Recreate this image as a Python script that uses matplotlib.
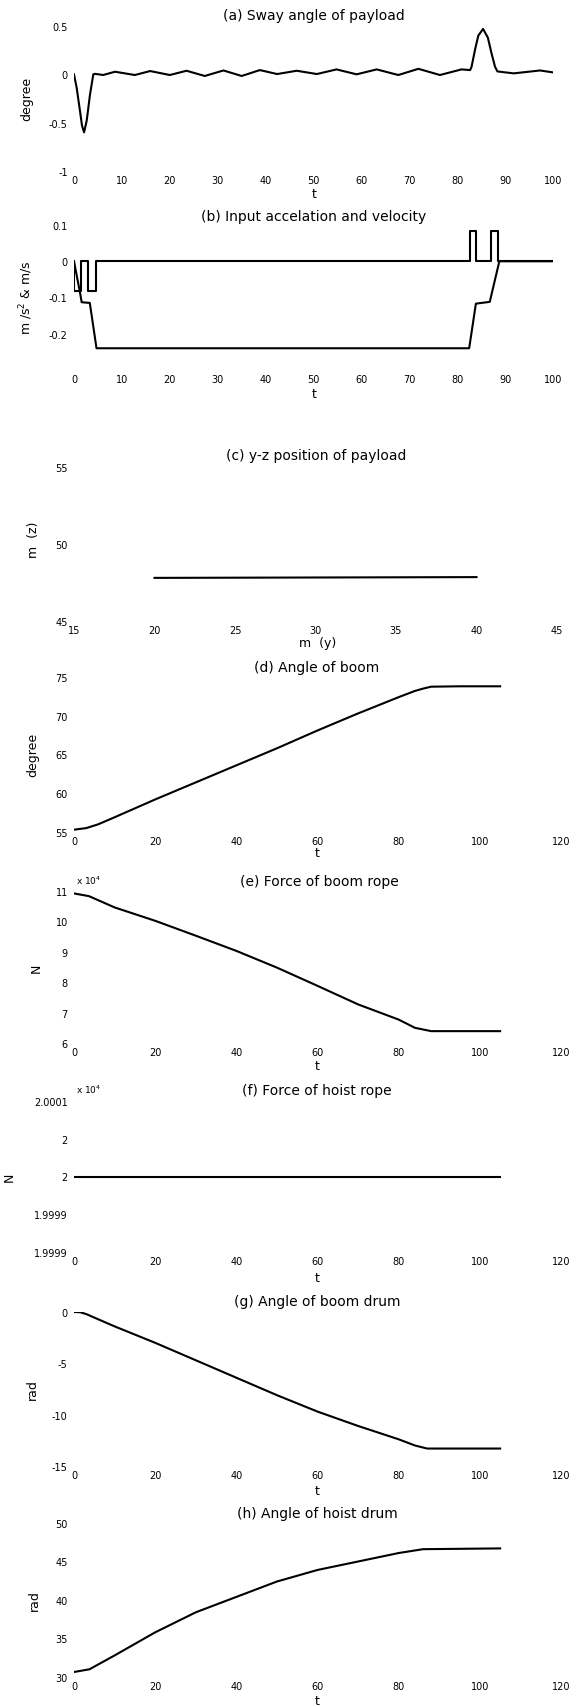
import matplotlib
matplotlib.use("Agg")
import matplotlib.pyplot as plt

plt.rcParams['font.family'] = ['DejaVu Sans']
plt.rcParams['axes.unicode_minus'] = False

# ---------------- data ----------------
# (a) sway angle of payload
sway_t = [0, 0.56, 1.25, 1.67, 2.1, 2.65, 3.34, 4.03, 4.4, 6.1, 8.56, 12.7, 15.9, 20.0, 23.5,
          27.3, 31.2, 35.0, 38.8, 42.4, 46.5, 50.7, 54.8, 59.0, 63.2, 67.7, 71.9, 76.4, 80.9,
          82.7, 83.0, 83.7, 84.4, 85.4, 86.4, 87.2, 87.9, 88.4, 91.8, 97.3, 100]
sway_v = [0, -0.14, -0.38, -0.53, -0.60, -0.48, -0.21, 0.0, 0.005, -0.007, 0.027, -0.007, 0.034,
          -0.007, 0.037, -0.017, 0.04, -0.017, 0.044, 0.003, 0.037, 0.003, 0.051, 0.0, 0.051,
          -0.007, 0.057, -0.007, 0.051, 0.044, 0.078, 0.25, 0.40, 0.47, 0.38, 0.21, 0.078, 0.03,
          0.01, 0.04, 0.02]

# (b) input acceleration and velocity
acc_t = [0, 0, 1.45, 1.45, 3.0, 3.0, 4.55, 4.55, 82.7, 82.7, 83.9, 83.9, 87.0, 87.0, 88.6, 88.6, 100]
acc_v = [0, -0.083, -0.083, 0, 0, -0.083, -0.083, 0, 0, 0.083, 0.083, 0, 0, 0.083, 0.083, 0, 0]
vel_t = [0, 1.3, 1.6, 3.3, 4.7, 82.5, 83.9, 86.8, 88.8, 100]
vel_v = [0, -0.09, -0.113, -0.115, -0.240, -0.240, -0.117, -0.112, 0.0, 0.0]

# (c) y-z position of payload
pos_y = [20, 40]
pos_z = [47.80, 47.85]

# (d) angle of boom
boom_t = [0, 3, 6, 10, 20, 30, 40, 50, 60, 70, 80, 84, 86, 88, 95, 105]
boom_v = [55.3, 55.5, 56.0, 56.9, 59.2, 61.4, 63.6, 65.8, 68.1, 70.3, 72.4, 73.2, 73.5, 73.75, 73.8, 73.8]

# (e) force of boom rope (x 10^4 N)
frope_t = [0, 3.7, 10, 20, 30, 40, 50, 60, 70, 80, 84, 88, 105]
frope_v = [10.92, 10.83, 10.46, 10.02, 9.53, 9.03, 8.48, 7.88, 7.27, 6.77, 6.50, 6.39, 6.39]

# (f) force of hoist rope (x 10^4 N)
fhoist_t = [0, 105]
fhoist_v = [2.0, 2.0]
fhoist_ticks = [1.9999, 1.99995, 2.0, 2.00005, 2.0001]
fhoist_labels = ['1.9999', '1.9999', '2', '2', '2.0001']

# (g) angle of boom drum
bdrum_t = [0, 1.5, 3, 10, 20, 30, 40, 50, 60, 70, 80, 84, 87, 105]
bdrum_v = [0, -0.02, -0.2, -1.4, -3.0, -4.7, -6.4, -8.1, -9.7, -11.1, -12.4, -13.0, -13.3, -13.3]

# (h) angle of hoist drum
hdrum_t = [0, 3.8, 10, 20, 30, 40, 50, 60, 70, 80, 86, 105]
hdrum_v = [30.65, 31.0, 32.8, 35.8, 38.4, 40.4, 42.4, 43.9, 45.0, 46.1, 46.6, 46.7]

# ---------------- figure ----------------
W, H = 587, 1708
fig = plt.figure(figsize=(W / 100, H / 100), dpi=100)
fig.patch.set_facecolor('white')

LEFT = 74
TICK_FS = 7
TITLE_FS = 10
LABEL_FS = 9


def make_axes(top, bottom, right):
    ax = fig.add_axes([LEFT / W, 1 - bottom / H, (right - LEFT) / W, (bottom - top) / H])
    for s in ax.spines.values():
        s.set_visible(False)
    ax.tick_params(length=0, labelsize=TICK_FS)
    ax.tick_params(axis='x', pad=2.8)
    ax.tick_params(axis='y', pad=4.5)
    ax.set_facecolor('none')
    return ax


def ftext(x, y, s, size, rot=0, ha='center'):
    fig.text(x / W, 1 - y / H, s, fontsize=size, rotation=rot, ha=ha, va='center')


LW = 1.5

# (a)
ax = make_axes(27, 172, 553)
ax.plot(sway_t, sway_v, color='black', lw=LW)
ax.set_xlim(0, 100)
ax.set_ylim(-1, 0.5)
ax.set_xticks(list(range(0, 101, 10)))
ax.set_xticklabels([str(v) for v in range(0, 101, 10)])
ax.set_yticks([-1, -0.5, 0, 0.5])
ax.set_yticklabels(['-1', '-0.5', '0', '0.5'])
ftext(314, 16, '(a) Sway angle of payload', TITLE_FS)
ftext(314, 194, 't', LABEL_FS)
ftext(27, 99, 'degree', LABEL_FS, rot=90)

# (b)
ax = make_axes(226, 371, 553)
ax.plot(acc_t, acc_v, color='black', lw=LW)
ax.plot(vel_t, vel_v, color='black', lw=LW)
ax.set_xlim(0, 100)
ax.set_ylim(-0.3, 0.1)
ax.set_xticks(list(range(0, 101, 10)))
ax.set_xticklabels([str(v) for v in range(0, 101, 10)])
ax.set_yticks([-0.2, -0.1, 0, 0.1])
ax.set_yticklabels(['-0.2', '-0.1', '0', '0.1'])
ftext(314, 217, '(b) Input accelation and velocity', TITLE_FS)
ftext(314, 394, 't', LABEL_FS)
ftext(26, 298, r'm /s$^2$ & m/s', LABEL_FS, rot=90)

# (c)
ax = make_axes(468, 622, 557)
ax.plot(pos_y, pos_z, color='black', lw=LW)
ax.set_xlim(15, 45)
ax.set_ylim(45, 55)
ax.set_xticks([15, 20, 25, 30, 35, 40, 45])
ax.set_xticklabels(['15', '20', '25', '30', '35', '40', '45'])
ax.set_yticks([45, 50, 55])
ax.set_yticklabels(['45', '50', '55'])
ftext(316, 456, '(c) y-z position of payload', TITLE_FS)
ftext(318, 644, 'm  (y)', LABEL_FS)
ftext(33, 540, 'm  (z)', LABEL_FS, rot=90)

# (d)
ax = make_axes(678, 833, 561)
ax.plot(boom_t, boom_v, color='black', lw=LW)
ax.set_xlim(0, 120)
ax.set_ylim(55, 75)
ax.set_xticks(list(range(0, 121, 20)))
ax.set_xticklabels([str(v) for v in range(0, 121, 20)])
ax.set_yticks([55, 60, 65, 70, 75])
ax.set_yticklabels(['55', '60', '65', '70', '75'])
ftext(317, 668, '(d) Angle of boom', TITLE_FS)
ftext(317, 854, 't', LABEL_FS)
ftext(33, 755, 'degree', LABEL_FS, rot=90)

# (e)
ax = make_axes(892, 1044, 561)
ax.plot(frope_t, frope_v, color='black', lw=LW)
ax.set_xlim(0, 120)
ax.set_ylim(6, 11)
ax.set_xticks(list(range(0, 121, 20)))
ax.set_xticklabels([str(v) for v in range(0, 121, 20)])
ax.set_yticks([6, 7, 8, 9, 10, 11])
ax.set_yticklabels(['6', '7', '8', '9', '10', '11'])
ftext(319, 882, '(e) Force of boom rope', TITLE_FS)
ftext(317, 1067, 't', LABEL_FS)
ftext(36, 968, 'N', LABEL_FS, rot=90)
ftext(76, 881, r'x 10$^4$', 6.5, ha='left')

# (f)
ax = make_axes(1102, 1253, 561)
ax.plot(fhoist_t, fhoist_v, color='black', lw=LW)
ax.set_xlim(0, 120)
ax.set_ylim(1.9999, 2.0001)
ax.set_xticks(list(range(0, 121, 20)))
ax.set_xticklabels([str(v) for v in range(0, 121, 20)])
ax.set_yticks(fhoist_ticks)
ax.set_yticklabels(fhoist_labels)
ftext(317, 1091, '(f) Force of hoist rope', TITLE_FS)
ftext(317, 1278, 't', LABEL_FS)
ftext(9, 1177, 'N', LABEL_FS, rot=90)
ftext(76, 1090, r'x 10$^4$', 6.5, ha='left')

# (g)
ax = make_axes(1313, 1467, 561)
ax.plot(bdrum_t, bdrum_v, color='black', lw=LW)
ax.set_xlim(0, 120)
ax.set_ylim(-15, 0)
ax.set_xticks(list(range(0, 121, 20)))
ax.set_xticklabels([str(v) for v in range(0, 121, 20)])
ax.set_yticks([-15, -10, -5, 0])
ax.set_yticklabels(['-15', '-10', '-5', '0'])
ftext(317, 1302, '(g) Angle of boom drum', TITLE_FS)
ftext(317, 1492, 't', LABEL_FS)
ftext(32, 1390, 'rad', LABEL_FS, rot=90)

# (h)
ax = make_axes(1524, 1678, 561)
ax.plot(hdrum_t, hdrum_v, color='black', lw=LW)
ax.set_xlim(0, 120)
ax.set_ylim(30, 50)
ax.set_xticks(list(range(0, 121, 20)))
ax.set_xticklabels([str(v) for v in range(0, 121, 20)])
ax.set_yticks([30, 35, 40, 45, 50])
ax.set_yticklabels(['30', '35', '40', '45', '50'])
ftext(317, 1514, '(h) Angle of hoist drum', TITLE_FS)
ftext(317, 1702, 't', LABEL_FS)
ftext(34, 1601, 'rad', LABEL_FS, rot=90)

fig.savefig('out.png', dpi=100, facecolor='white')
